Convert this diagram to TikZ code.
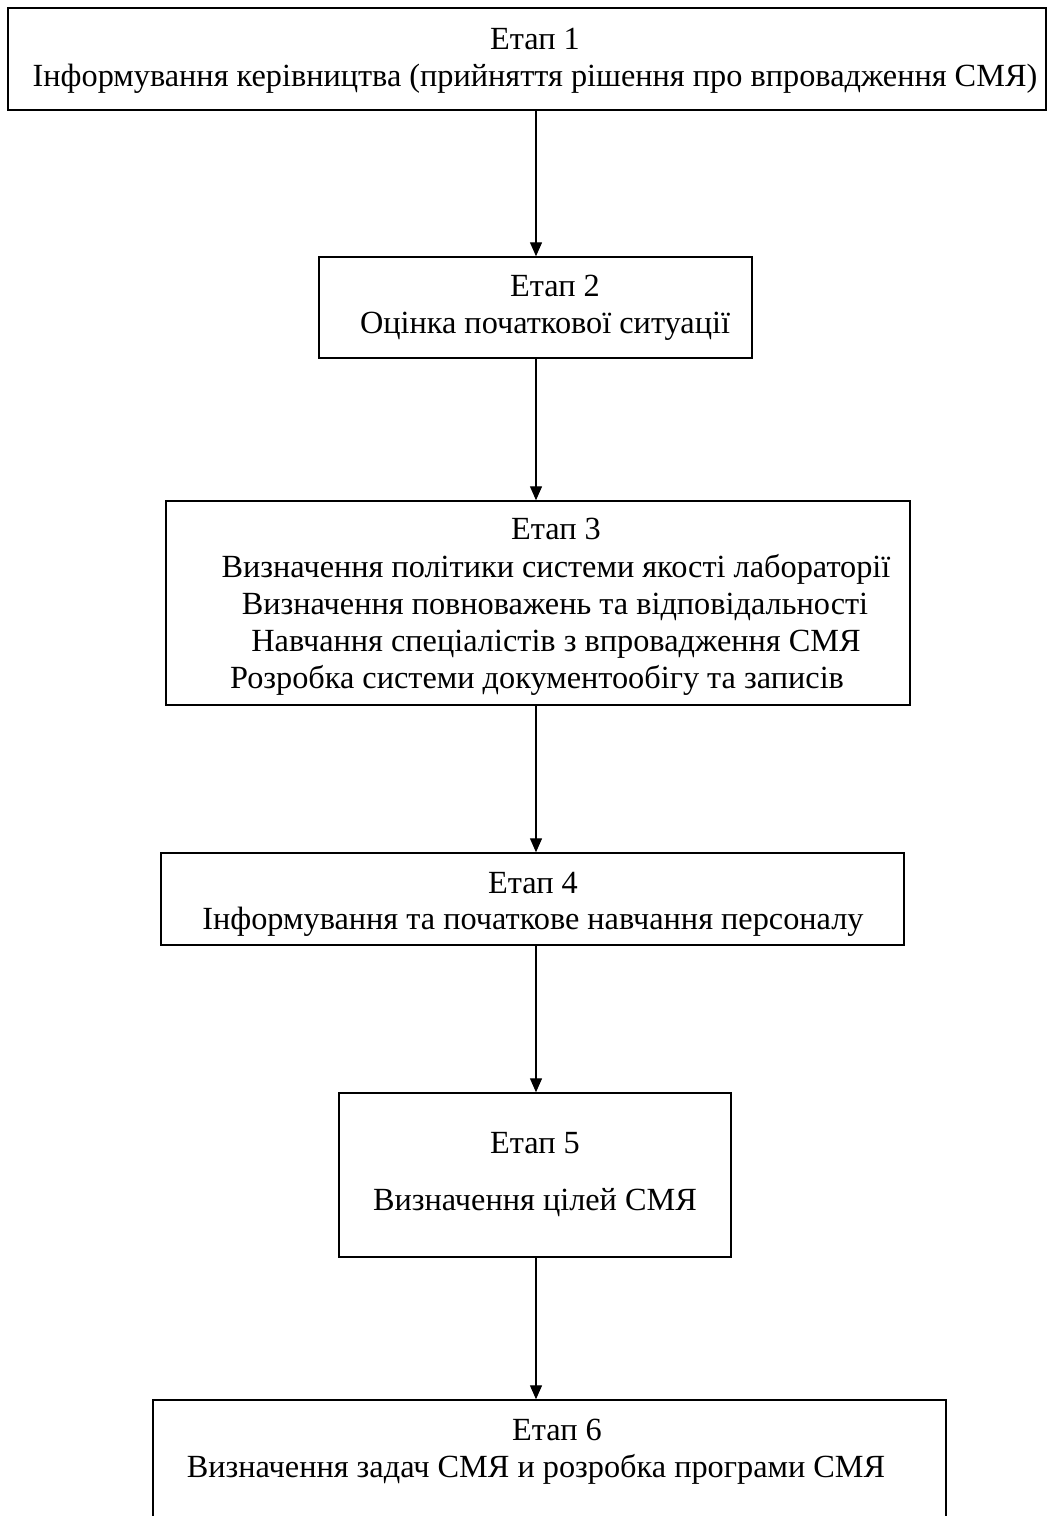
\documentclass[tikz,border=0pt]{standalone}
\usepackage{fontspec}
\setmainfont{Liberation Serif}
\usetikzlibrary{arrows.meta}
\begin{document}
\begin{tikzpicture}[x=1pt,y=-1pt,
  box/.style={draw, line width=1.5pt, inner sep=0pt},
  txt/.style={anchor=base, inner sep=0pt, font=\fontsize{32.3}{37}\selectfont},
  arr/.style={line width=1.4pt, -{Triangle[length=14pt,width=12pt]}}]
\useasboundingbox (0,0) rectangle (1052,1516);
\fill[white] (0,0) rectangle (1052,1516);
\coordinate (ax) at (536,0);
% boxes
\node[box, minimum width=1038pt, minimum height=102pt] (b1) at (527,59) {};
\node[box, minimum width=433pt, minimum height=101pt] (b2) at (535.5,307.5) {};
\node[box, minimum width=744pt, minimum height=204pt] (b3) at (538,603) {};
\node[box, minimum width=743pt, minimum height=92pt] (b4) at (532.5,899) {};
\node[box, minimum width=392pt, minimum height=164pt] (b5) at (535,1175) {};
\begin{scope}
\clip (0,0) rectangle (1052,1516);
\node[box, minimum width=793pt, minimum height=140pt] (b6) at (549.5,1470) {};
\end{scope}
% texts
\node[txt] (t1a) at (535,49) {Етап 1};
\node[txt] (t1b) at (535,86) {Інформування керівництва (прийняття рішення про впровадження СМЯ)};
\node[txt] (t2a) at (555,296) {Етап 2};
\node[txt] (t2b) at (545,333) {Оцінка початкової ситуації};
\node[txt] (t3a) at (556,539) {Етап 3};
\node[txt] (t3b) at (556,577) {Визначення політики системи якості лабораторії};
\node[txt] (t3c) at (555,614) {Визначення повноважень та відповідальності};
\node[txt] (t3d) at (556,651) {Навчання спеціалістів з впровадження СМЯ};
\node[txt] (t3e) at (537,688) {Розробка системи документообігу та записів};
\node[txt] (t4a) at (533,893) {Етап 4};
\node[txt] (t4b) at (533,929) {Інформування та початкове навчання персоналу};
\node[txt] (t5a) at (535,1153) {Етап 5};
\node[txt] (t5b) at (535,1210) {Визначення цілей СМЯ};
\node[txt] (t6a) at (557,1440) {Етап 6};
\node[txt] (t6b) at (536,1477) {Визначення задач СМЯ и розробка програми СМЯ};
% arrows
\draw[arr] (b1.south -| ax) -- (b2.north -| ax);
\draw[arr] (b2.south -| ax) -- (b3.north -| ax);
\draw[arr] (b3.south -| ax) -- (b4.north -| ax);
\draw[arr] (b4.south -| ax) -- (b5.north -| ax);
\draw[arr] (b5.south -| ax) -- (b6.north -| ax);
\end{tikzpicture}
\end{document}
